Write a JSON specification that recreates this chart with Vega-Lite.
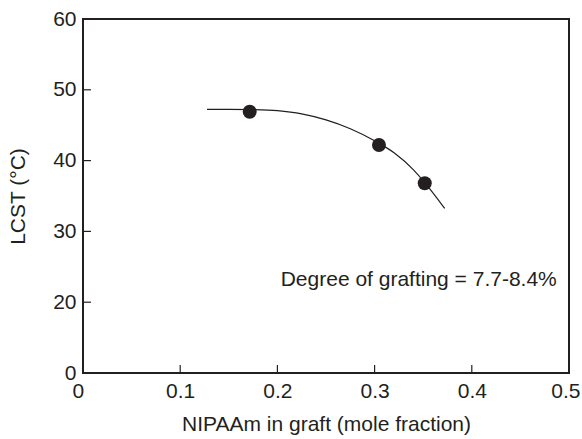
{
  "$schema": "https://vega.github.io/schema/vega-lite/v6.json",
  "width": 486,
  "height": 354,
  "autosize": {"type": "none"},
  "padding": {"left": 83, "top": 19, "right": 13, "bottom": 66},
  "background": "white",
  "config": {
    "view": {"stroke": "#231f20", "strokeWidth": 2},
    "font": "Liberation Sans",
    "axis": {
      "grid": false,
      "domain": false,
      "ticks": false,
      "labelFont": "Liberation Sans",
      "titleFont": "Liberation Sans",
      "labelFontSize": 21,
      "titleFontSize": 21,
      "titleFontWeight": "normal",
      "labelColor": "#231f20",
      "titleColor": "#231f20"
    }
  },
  "datasets": {
    "points": [
      {"x": 0.1715, "y": 46.9},
      {"x": 0.3045, "y": 42.2},
      {"x": 0.3516, "y": 36.8}
    ],
    "curve": [
      {"x": 0.1276, "y": 47.24},
      {"x": 0.15, "y": 47.24},
      {"x": 0.175, "y": 47.2},
      {"x": 0.2, "y": 47.05},
      {"x": 0.225, "y": 46.6},
      {"x": 0.25, "y": 45.75},
      {"x": 0.275, "y": 44.5},
      {"x": 0.3, "y": 42.8},
      {"x": 0.32, "y": 41.1},
      {"x": 0.34, "y": 38.7},
      {"x": 0.3516, "y": 36.9},
      {"x": 0.362, "y": 35.1},
      {"x": 0.3721, "y": 33.24}
    ],
    "xticks": [{"x": 0.1}, {"x": 0.2}, {"x": 0.3}, {"x": 0.4}],
    "yticks": [{"y": 20}, {"y": 30}, {"y": 40}, {"y": 50}],
    "note": [
      {"x": 0.3454, "y": 23.1, "label": "Degree of grafting = 7.7-8.4%"}
    ]
  },
  "layer": [
    {
      "data": {"name": "curve"},
      "mark": {"type": "line", "interpolate": "monotone", "color": "#231f20", "strokeWidth": 1.2},
      "encoding": {
        "x": {
          "field": "x",
          "type": "quantitative",
          "scale": {"domain": [0, 0.5], "nice": false, "zero": false},
          "axis": {
            "title": "NIPAAm in graft (mole fraction)",
            "values": [0, 0.1, 0.2, 0.3, 0.4, 0.5],
            "format": "~g",
            "labelPadding": 7,
            "titlePadding": 12,
            "labelFlush": true,
            "labelFlushOffset": 11
          }
        },
        "y": {
          "field": "y",
          "type": "quantitative",
          "scale": {"domain": [10, 60], "nice": false, "zero": false},
          "axis": {
            "title": "LCST (°C)",
            "values": [10, 20, 30, 40, 50, 60],
            "labelExpr": "datum.value == 10 ? '0' : datum.label",
            "labelPadding": 7,
            "titlePadding": 24,
            "labelFlush": false
          }
        }
      }
    },
    {
      "data": {"name": "xticks"},
      "mark": {"type": "rule", "color": "#231f20", "strokeWidth": 1.2},
      "encoding": {
        "x": {"field": "x", "type": "quantitative"},
        "y": {"datum": 10},
        "y2": {"datum": 11.13}
      }
    },
    {
      "data": {"name": "yticks"},
      "mark": {"type": "rule", "color": "#231f20", "strokeWidth": 1.2},
      "encoding": {
        "y": {"field": "y", "type": "quantitative"},
        "x": {"datum": 0},
        "x2": {"datum": 0.0082}
      }
    },
    {
      "data": {"name": "points"},
      "mark": {"type": "point", "filled": true, "shape": "circle", "size": 195, "color": "#231f20", "opacity": 1},
      "encoding": {
        "x": {"field": "x", "type": "quantitative"},
        "y": {"field": "y", "type": "quantitative"}
      }
    },
    {
      "data": {"name": "note"},
      "mark": {"type": "text", "fontSize": 21, "color": "#231f20", "font": "Liberation Sans", "align": "center", "baseline": "middle"},
      "encoding": {
        "x": {"field": "x", "type": "quantitative"},
        "y": {"field": "y", "type": "quantitative"},
        "text": {"field": "label"}
      }
    }
  ]
}
